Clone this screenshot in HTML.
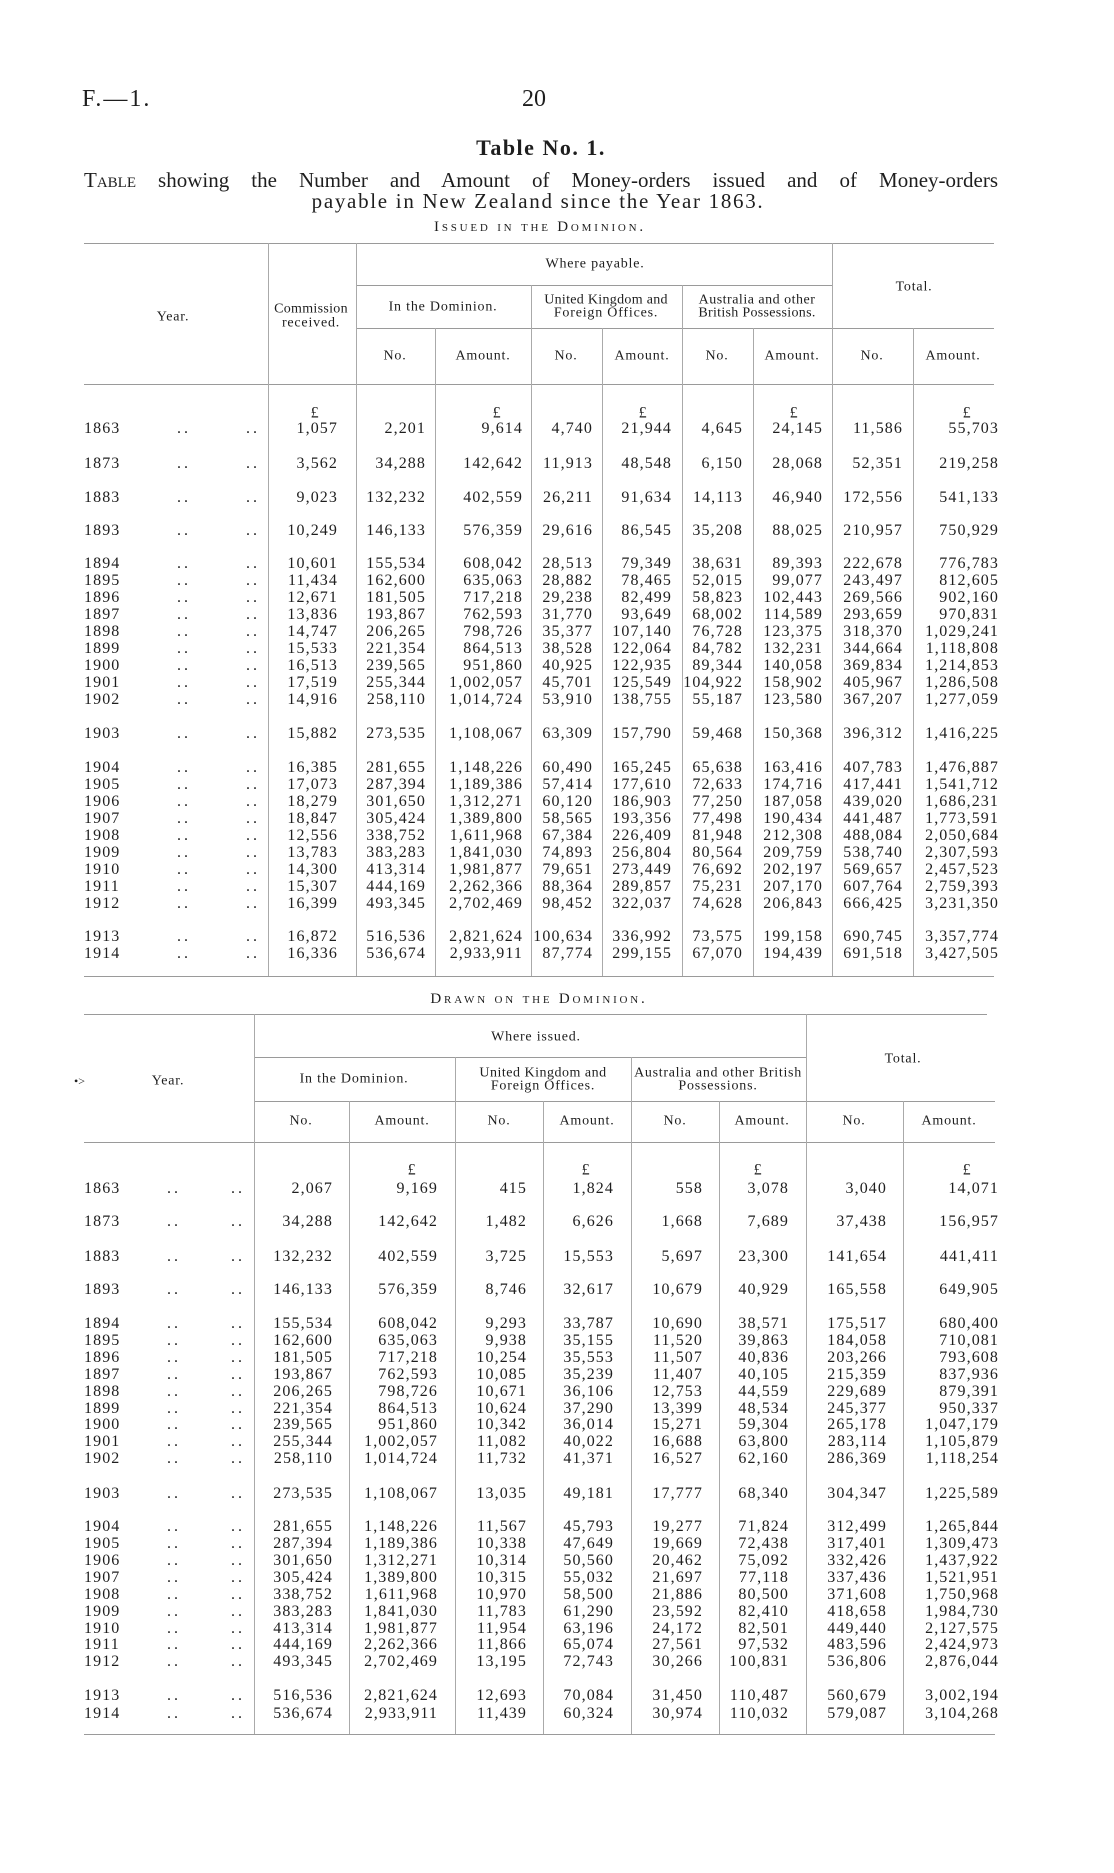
<!DOCTYPE html>
<html><head><meta charset="utf-8">
<style>
body{margin:0;width:1114px;height:1873px;background:#fff;position:relative;overflow:hidden;font-family:"Liberation Serif",serif;color:#1e1e1e}
.a{position:absolute;white-space:nowrap}
.c{position:absolute;white-space:nowrap;transform:translate(-50%,-50%);font-size:14px;line-height:15px;letter-spacing:0.8px;text-align:center}
.h{position:absolute;background:#9a9a9a;height:1px}
.v{position:absolute;background:#aaa;width:1px}
.r{position:absolute;left:0;width:1114px;height:17px;font-size:16px;line-height:17px;letter-spacing:1.1px}
.r span{position:absolute;top:0}
.y{left:84px}
.t1 .d1{left:177px;letter-spacing:3px}.t1 .d2{left:246px;letter-spacing:3px}
.t2 .d1{left:167px;letter-spacing:3px}.t2 .d2{left:231px;letter-spacing:3px}
.t1 .k1{right:776px}.t1 .k2{right:688px}.t1 .k3{right:591px}.t1 .k4{right:521px}.t1 .k5{right:442px}.t1 .k6{right:371px}.t1 .k7{right:291px}.t1 .k8{right:211px}.t1 .k9{right:115px}
.t2 .k1{right:781px}.t2 .k2{right:676px}.t2 .k3{right:587px}.t2 .k4{right:500px}.t2 .k5{right:411px}.t2 .k6{right:325px}.t2 .k7{right:227px}.t2 .k8{right:115px}
.p{font-size:16px}
</style></head><body>

<div class="a" style="left:82px;top:85px;font-size:24px;line-height:28px;letter-spacing:2px">F.—1.</div>
<div class="a" style="left:522px;top:85px;font-size:24px;line-height:28px">20</div>
<div class="c" style="left:541px;top:148px;font-size:22px;line-height:24px;font-weight:bold;letter-spacing:1.5px">Table No. 1.</div>
<div class="a" style="left:84px;top:168px;width:914px;font-size:21px;line-height:24px;text-align:justify;text-align-last:justify;white-space:normal"><span style="font-variant:small-caps">Table</span> showing the Number and Amount of Money-orders issued and of Money-orders</div>
<div class="c" style="left:538px;top:201px;font-size:21px;line-height:24px;letter-spacing:1.7px">payable in New Zealand since the Year 1863.</div>
<div class="c" style="left:540px;top:227px;font-size:15px;line-height:16px;letter-spacing:2.8px;font-variant:small-caps">Issued in the Dominion.</div>

<!-- Table 1 lines -->
<div class="h" style="left:84px;width:910px;top:243px"></div>
<div class="h" style="left:356px;width:476px;top:285px"></div>
<div class="h" style="left:356px;width:638px;top:328px"></div>
<div class="h" style="left:84px;width:910px;top:384px"></div>
<div class="h" style="left:84px;width:910px;top:976px"></div>
<div class="v" style="left:268px;top:243px;height:733px"></div>
<div class="v" style="left:356px;top:243px;height:733px"></div>
<div class="v" style="left:435px;top:328px;height:648px"></div>
<div class="v" style="left:531px;top:285px;height:691px"></div>
<div class="v" style="left:602px;top:328px;height:648px"></div>
<div class="v" style="left:682px;top:285px;height:691px"></div>
<div class="v" style="left:753px;top:328px;height:648px"></div>
<div class="v" style="left:832px;top:243px;height:733px"></div>
<div class="v" style="left:913px;top:328px;height:648px"></div>

<!-- Table 1 headers -->
<div class="c" style="left:595px;top:264px">Where payable.</div>
<div class="c" style="left:173px;top:317px">Year.</div>
<div class="c" style="left:311px;top:309px;letter-spacing:0.3px">Commission</div>
<div class="c" style="left:311px;top:323px">received.</div>
<div class="c" style="left:443px;top:307px">In the Dominion.</div>
<div class="c" style="left:606px;top:300px;letter-spacing:0.3px">United Kingdom and</div>
<div class="c" style="left:606px;top:313px">Foreign Offices.</div>
<div class="c" style="left:757px;top:300px;letter-spacing:0.5px">Australia and other</div>
<div class="c" style="left:757px;top:313px;letter-spacing:0.3px">British Possessions.</div>
<div class="c" style="left:914px;top:287px">Total.</div>
<div class="c" style="left:395px;top:356px">No.</div>
<div class="c" style="left:483px;top:356px">Amount.</div>
<div class="c" style="left:566px;top:356px">No.</div>
<div class="c" style="left:642px;top:356px">Amount.</div>
<div class="c" style="left:717px;top:356px">No.</div>
<div class="c" style="left:792px;top:356px">Amount.</div>
<div class="c" style="left:872px;top:356px">No.</div>
<div class="c" style="left:953px;top:356px">Amount.</div>

<div class="c p" style="left:315px;top:413px">£</div>
<div class="c p" style="left:497px;top:413px">£</div>
<div class="c p" style="left:643px;top:413px">£</div>
<div class="c p" style="left:794px;top:413px">£</div>
<div class="c p" style="left:967px;top:413px">£</div>

<!-- Table 1 rows -->
<div class="r t1" style="top:420px"><span class="y">1863</span><span class="d1">..</span><span class="d2">..</span><span class="k1">1,057</span><span class="k2">2,201</span><span class="k3">9,614</span><span class="k4">4,740</span><span class="k5">21,944</span><span class="k6">4,645</span><span class="k7">24,145</span><span class="k8">11,586</span><span class="k9">55,703</span></div>
<div class="r t1" style="top:455px"><span class="y">1873</span><span class="d1">..</span><span class="d2">..</span><span class="k1">3,562</span><span class="k2">34,288</span><span class="k3">142,642</span><span class="k4">11,913</span><span class="k5">48,548</span><span class="k6">6,150</span><span class="k7">28,068</span><span class="k8">52,351</span><span class="k9">219,258</span></div>
<div class="r t1" style="top:489px"><span class="y">1883</span><span class="d1">..</span><span class="d2">..</span><span class="k1">9,023</span><span class="k2">132,232</span><span class="k3">402,559</span><span class="k4">26,211</span><span class="k5">91,634</span><span class="k6">14,113</span><span class="k7">46,940</span><span class="k8">172,556</span><span class="k9">541,133</span></div>
<div class="r t1" style="top:522px"><span class="y">1893</span><span class="d1">..</span><span class="d2">..</span><span class="k1">10,249</span><span class="k2">146,133</span><span class="k3">576,359</span><span class="k4">29,616</span><span class="k5">86,545</span><span class="k6">35,208</span><span class="k7">88,025</span><span class="k8">210,957</span><span class="k9">750,929</span></div>
<div class="r t1" style="top:555px"><span class="y">1894</span><span class="d1">..</span><span class="d2">..</span><span class="k1">10,601</span><span class="k2">155,534</span><span class="k3">608,042</span><span class="k4">28,513</span><span class="k5">79,349</span><span class="k6">38,631</span><span class="k7">89,393</span><span class="k8">222,678</span><span class="k9">776,783</span></div>
<div class="r t1" style="top:572px"><span class="y">1895</span><span class="d1">..</span><span class="d2">..</span><span class="k1">11,434</span><span class="k2">162,600</span><span class="k3">635,063</span><span class="k4">28,882</span><span class="k5">78,465</span><span class="k6">52,015</span><span class="k7">99,077</span><span class="k8">243,497</span><span class="k9">812,605</span></div>
<div class="r t1" style="top:589px"><span class="y">1896</span><span class="d1">..</span><span class="d2">..</span><span class="k1">12,671</span><span class="k2">181,505</span><span class="k3">717,218</span><span class="k4">29,238</span><span class="k5">82,499</span><span class="k6">58,823</span><span class="k7">102,443</span><span class="k8">269,566</span><span class="k9">902,160</span></div>
<div class="r t1" style="top:606px"><span class="y">1897</span><span class="d1">..</span><span class="d2">..</span><span class="k1">13,836</span><span class="k2">193,867</span><span class="k3">762,593</span><span class="k4">31,770</span><span class="k5">93,649</span><span class="k6">68,002</span><span class="k7">114,589</span><span class="k8">293,659</span><span class="k9">970,831</span></div>
<div class="r t1" style="top:623px"><span class="y">1898</span><span class="d1">..</span><span class="d2">..</span><span class="k1">14,747</span><span class="k2">206,265</span><span class="k3">798,726</span><span class="k4">35,377</span><span class="k5">107,140</span><span class="k6">76,728</span><span class="k7">123,375</span><span class="k8">318,370</span><span class="k9">1,029,241</span></div>
<div class="r t1" style="top:640px"><span class="y">1899</span><span class="d1">..</span><span class="d2">..</span><span class="k1">15,533</span><span class="k2">221,354</span><span class="k3">864,513</span><span class="k4">38,528</span><span class="k5">122,064</span><span class="k6">84,782</span><span class="k7">132,231</span><span class="k8">344,664</span><span class="k9">1,118,808</span></div>
<div class="r t1" style="top:657px"><span class="y">1900</span><span class="d1">..</span><span class="d2">..</span><span class="k1">16,513</span><span class="k2">239,565</span><span class="k3">951,860</span><span class="k4">40,925</span><span class="k5">122,935</span><span class="k6">89,344</span><span class="k7">140,058</span><span class="k8">369,834</span><span class="k9">1,214,853</span></div>
<div class="r t1" style="top:674px"><span class="y">1901</span><span class="d1">..</span><span class="d2">..</span><span class="k1">17,519</span><span class="k2">255,344</span><span class="k3">1,002,057</span><span class="k4">45,701</span><span class="k5">125,549</span><span class="k6">104,922</span><span class="k7">158,902</span><span class="k8">405,967</span><span class="k9">1,286,508</span></div>
<div class="r t1" style="top:691px"><span class="y">1902</span><span class="d1">..</span><span class="d2">..</span><span class="k1">14,916</span><span class="k2">258,110</span><span class="k3">1,014,724</span><span class="k4">53,910</span><span class="k5">138,755</span><span class="k6">55,187</span><span class="k7">123,580</span><span class="k8">367,207</span><span class="k9">1,277,059</span></div>
<div class="r t1" style="top:725px"><span class="y">1903</span><span class="d1">..</span><span class="d2">..</span><span class="k1">15,882</span><span class="k2">273,535</span><span class="k3">1,108,067</span><span class="k4">63,309</span><span class="k5">157,790</span><span class="k6">59,468</span><span class="k7">150,368</span><span class="k8">396,312</span><span class="k9">1,416,225</span></div>
<div class="r t1" style="top:759px"><span class="y">1904</span><span class="d1">..</span><span class="d2">..</span><span class="k1">16,385</span><span class="k2">281,655</span><span class="k3">1,148,226</span><span class="k4">60,490</span><span class="k5">165,245</span><span class="k6">65,638</span><span class="k7">163,416</span><span class="k8">407,783</span><span class="k9">1,476,887</span></div>
<div class="r t1" style="top:776px"><span class="y">1905</span><span class="d1">..</span><span class="d2">..</span><span class="k1">17,073</span><span class="k2">287,394</span><span class="k3">1,189,386</span><span class="k4">57,414</span><span class="k5">177,610</span><span class="k6">72,633</span><span class="k7">174,716</span><span class="k8">417,441</span><span class="k9">1,541,712</span></div>
<div class="r t1" style="top:793px"><span class="y">1906</span><span class="d1">..</span><span class="d2">..</span><span class="k1">18,279</span><span class="k2">301,650</span><span class="k3">1,312,271</span><span class="k4">60,120</span><span class="k5">186,903</span><span class="k6">77,250</span><span class="k7">187,058</span><span class="k8">439,020</span><span class="k9">1,686,231</span></div>
<div class="r t1" style="top:810px"><span class="y">1907</span><span class="d1">..</span><span class="d2">..</span><span class="k1">18,847</span><span class="k2">305,424</span><span class="k3">1,389,800</span><span class="k4">58,565</span><span class="k5">193,356</span><span class="k6">77,498</span><span class="k7">190,434</span><span class="k8">441,487</span><span class="k9">1,773,591</span></div>
<div class="r t1" style="top:827px"><span class="y">1908</span><span class="d1">..</span><span class="d2">..</span><span class="k1">12,556</span><span class="k2">338,752</span><span class="k3">1,611,968</span><span class="k4">67,384</span><span class="k5">226,409</span><span class="k6">81,948</span><span class="k7">212,308</span><span class="k8">488,084</span><span class="k9">2,050,684</span></div>
<div class="r t1" style="top:844px"><span class="y">1909</span><span class="d1">..</span><span class="d2">..</span><span class="k1">13,783</span><span class="k2">383,283</span><span class="k3">1,841,030</span><span class="k4">74,893</span><span class="k5">256,804</span><span class="k6">80,564</span><span class="k7">209,759</span><span class="k8">538,740</span><span class="k9">2,307,593</span></div>
<div class="r t1" style="top:861px"><span class="y">1910</span><span class="d1">..</span><span class="d2">..</span><span class="k1">14,300</span><span class="k2">413,314</span><span class="k3">1,981,877</span><span class="k4">79,651</span><span class="k5">273,449</span><span class="k6">76,692</span><span class="k7">202,197</span><span class="k8">569,657</span><span class="k9">2,457,523</span></div>
<div class="r t1" style="top:878px"><span class="y">1911</span><span class="d1">..</span><span class="d2">..</span><span class="k1">15,307</span><span class="k2">444,169</span><span class="k3">2,262,366</span><span class="k4">88,364</span><span class="k5">289,857</span><span class="k6">75,231</span><span class="k7">207,170</span><span class="k8">607,764</span><span class="k9">2,759,393</span></div>
<div class="r t1" style="top:895px"><span class="y">1912</span><span class="d1">..</span><span class="d2">..</span><span class="k1">16,399</span><span class="k2">493,345</span><span class="k3">2,702,469</span><span class="k4">98,452</span><span class="k5">322,037</span><span class="k6">74,628</span><span class="k7">206,843</span><span class="k8">666,425</span><span class="k9">3,231,350</span></div>
<div class="r t1" style="top:928px"><span class="y">1913</span><span class="d1">..</span><span class="d2">..</span><span class="k1">16,872</span><span class="k2">516,536</span><span class="k3">2,821,624</span><span class="k4">100,634</span><span class="k5">336,992</span><span class="k6">73,575</span><span class="k7">199,158</span><span class="k8">690,745</span><span class="k9">3,357,774</span></div>
<div class="r t1" style="top:945px"><span class="y">1914</span><span class="d1">..</span><span class="d2">..</span><span class="k1">16,336</span><span class="k2">536,674</span><span class="k3">2,933,911</span><span class="k4">87,774</span><span class="k5">299,155</span><span class="k6">67,070</span><span class="k7">194,439</span><span class="k8">691,518</span><span class="k9">3,427,505</span></div>

<!-- Table 2 -->
<div class="c" style="left:539px;top:999px;font-size:15px;line-height:16px;letter-spacing:2.8px;font-variant:small-caps">Drawn on the Dominion.</div>

<div class="h" style="left:84px;width:903px;top:1014px"></div>
<div class="h" style="left:254px;width:552px;top:1057px"></div>
<div class="h" style="left:254px;width:741px;top:1101px"></div>
<div class="h" style="left:84px;width:911px;top:1142px"></div>
<div class="h" style="left:84px;width:911px;top:1734px"></div>
<div class="v" style="left:254px;top:1014px;height:720px"></div>
<div class="v" style="left:349px;top:1101px;height:633px"></div>
<div class="v" style="left:455px;top:1057px;height:677px"></div>
<div class="v" style="left:543px;top:1101px;height:633px"></div>
<div class="v" style="left:631px;top:1057px;height:677px"></div>
<div class="v" style="left:719px;top:1101px;height:633px"></div>
<div class="v" style="left:806px;top:1014px;height:720px"></div>
<div class="v" style="left:903px;top:1101px;height:633px"></div>

<div class="c" style="left:536px;top:1037px">Where issued.</div>
<div class="c" style="left:168px;top:1081px">Year.</div>
<div class="a" style="left:74px;top:1074px;font-size:12px;line-height:14px">•&gt;</div>
<div class="c" style="left:354px;top:1079px">In the Dominion.</div>
<div class="c" style="left:543px;top:1073px;letter-spacing:0.5px">United Kingdom and</div>
<div class="c" style="left:543px;top:1086px">Foreign Offices.</div>
<div class="c" style="left:718px;top:1073px;letter-spacing:0.7px">Australia and other British</div>
<div class="c" style="left:718px;top:1086px">Possessions.</div>
<div class="c" style="left:903px;top:1059px">Total.</div>
<div class="c" style="left:301px;top:1121px">No.</div>
<div class="c" style="left:402px;top:1121px">Amount.</div>
<div class="c" style="left:499px;top:1121px">No.</div>
<div class="c" style="left:587px;top:1121px">Amount.</div>
<div class="c" style="left:675px;top:1121px">No.</div>
<div class="c" style="left:762px;top:1121px">Amount.</div>
<div class="c" style="left:854px;top:1121px">No.</div>
<div class="c" style="left:949px;top:1121px">Amount.</div>

<div class="c p" style="left:412px;top:1170px">£</div>
<div class="c p" style="left:586px;top:1170px">£</div>
<div class="c p" style="left:758px;top:1170px">£</div>
<div class="c p" style="left:967px;top:1170px">£</div>

<div class="r t2" style="top:1180px"><span class="y">1863</span><span class="d1">..</span><span class="d2">..</span><span class="k1">2,067</span><span class="k2">9,169</span><span class="k3">415</span><span class="k4">1,824</span><span class="k5">558</span><span class="k6">3,078</span><span class="k7">3,040</span><span class="k8">14,071</span></div>
<div class="r t2" style="top:1213px"><span class="y">1873</span><span class="d1">..</span><span class="d2">..</span><span class="k1">34,288</span><span class="k2">142,642</span><span class="k3">1,482</span><span class="k4">6,626</span><span class="k5">1,668</span><span class="k6">7,689</span><span class="k7">37,438</span><span class="k8">156,957</span></div>
<div class="r t2" style="top:1248px"><span class="y">1883</span><span class="d1">..</span><span class="d2">..</span><span class="k1">132,232</span><span class="k2">402,559</span><span class="k3">3,725</span><span class="k4">15,553</span><span class="k5">5,697</span><span class="k6">23,300</span><span class="k7">141,654</span><span class="k8">441,411</span></div>
<div class="r t2" style="top:1281px"><span class="y">1893</span><span class="d1">..</span><span class="d2">..</span><span class="k1">146,133</span><span class="k2">576,359</span><span class="k3">8,746</span><span class="k4">32,617</span><span class="k5">10,679</span><span class="k6">40,929</span><span class="k7">165,558</span><span class="k8">649,905</span></div>
<div class="r t2" style="top:1315px"><span class="y">1894</span><span class="d1">..</span><span class="d2">..</span><span class="k1">155,534</span><span class="k2">608,042</span><span class="k3">9,293</span><span class="k4">33,787</span><span class="k5">10,690</span><span class="k6">38,571</span><span class="k7">175,517</span><span class="k8">680,400</span></div>
<div class="r t2" style="top:1332px"><span class="y">1895</span><span class="d1">..</span><span class="d2">..</span><span class="k1">162,600</span><span class="k2">635,063</span><span class="k3">9,938</span><span class="k4">35,155</span><span class="k5">11,520</span><span class="k6">39,863</span><span class="k7">184,058</span><span class="k8">710,081</span></div>
<div class="r t2" style="top:1349px"><span class="y">1896</span><span class="d1">..</span><span class="d2">..</span><span class="k1">181,505</span><span class="k2">717,218</span><span class="k3">10,254</span><span class="k4">35,553</span><span class="k5">11,507</span><span class="k6">40,836</span><span class="k7">203,266</span><span class="k8">793,608</span></div>
<div class="r t2" style="top:1366px"><span class="y">1897</span><span class="d1">..</span><span class="d2">..</span><span class="k1">193,867</span><span class="k2">762,593</span><span class="k3">10,085</span><span class="k4">35,239</span><span class="k5">11,407</span><span class="k6">40,105</span><span class="k7">215,359</span><span class="k8">837,936</span></div>
<div class="r t2" style="top:1383px"><span class="y">1898</span><span class="d1">..</span><span class="d2">..</span><span class="k1">206,265</span><span class="k2">798,726</span><span class="k3">10,671</span><span class="k4">36,106</span><span class="k5">12,753</span><span class="k6">44,559</span><span class="k7">229,689</span><span class="k8">879,391</span></div>
<div class="r t2" style="top:1400px"><span class="y">1899</span><span class="d1">..</span><span class="d2">..</span><span class="k1">221,354</span><span class="k2">864,513</span><span class="k3">10,624</span><span class="k4">37,290</span><span class="k5">13,399</span><span class="k6">48,534</span><span class="k7">245,377</span><span class="k8">950,337</span></div>
<div class="r t2" style="top:1416px"><span class="y">1900</span><span class="d1">..</span><span class="d2">..</span><span class="k1">239,565</span><span class="k2">951,860</span><span class="k3">10,342</span><span class="k4">36,014</span><span class="k5">15,271</span><span class="k6">59,304</span><span class="k7">265,178</span><span class="k8">1,047,179</span></div>
<div class="r t2" style="top:1433px"><span class="y">1901</span><span class="d1">..</span><span class="d2">..</span><span class="k1">255,344</span><span class="k2">1,002,057</span><span class="k3">11,082</span><span class="k4">40,022</span><span class="k5">16,688</span><span class="k6">63,800</span><span class="k7">283,114</span><span class="k8">1,105,879</span></div>
<div class="r t2" style="top:1450px"><span class="y">1902</span><span class="d1">..</span><span class="d2">..</span><span class="k1">258,110</span><span class="k2">1,014,724</span><span class="k3">11,732</span><span class="k4">41,371</span><span class="k5">16,527</span><span class="k6">62,160</span><span class="k7">286,369</span><span class="k8">1,118,254</span></div>
<div class="r t2" style="top:1485px"><span class="y">1903</span><span class="d1">..</span><span class="d2">..</span><span class="k1">273,535</span><span class="k2">1,108,067</span><span class="k3">13,035</span><span class="k4">49,181</span><span class="k5">17,777</span><span class="k6">68,340</span><span class="k7">304,347</span><span class="k8">1,225,589</span></div>
<div class="r t2" style="top:1518px"><span class="y">1904</span><span class="d1">..</span><span class="d2">..</span><span class="k1">281,655</span><span class="k2">1,148,226</span><span class="k3">11,567</span><span class="k4">45,793</span><span class="k5">19,277</span><span class="k6">71,824</span><span class="k7">312,499</span><span class="k8">1,265,844</span></div>
<div class="r t2" style="top:1535px"><span class="y">1905</span><span class="d1">..</span><span class="d2">..</span><span class="k1">287,394</span><span class="k2">1,189,386</span><span class="k3">10,338</span><span class="k4">47,649</span><span class="k5">19,669</span><span class="k6">72,438</span><span class="k7">317,401</span><span class="k8">1,309,473</span></div>
<div class="r t2" style="top:1552px"><span class="y">1906</span><span class="d1">..</span><span class="d2">..</span><span class="k1">301,650</span><span class="k2">1,312,271</span><span class="k3">10,314</span><span class="k4">50,560</span><span class="k5">20,462</span><span class="k6">75,092</span><span class="k7">332,426</span><span class="k8">1,437,922</span></div>
<div class="r t2" style="top:1569px"><span class="y">1907</span><span class="d1">..</span><span class="d2">..</span><span class="k1">305,424</span><span class="k2">1,389,800</span><span class="k3">10,315</span><span class="k4">55,032</span><span class="k5">21,697</span><span class="k6">77,118</span><span class="k7">337,436</span><span class="k8">1,521,951</span></div>
<div class="r t2" style="top:1586px"><span class="y">1908</span><span class="d1">..</span><span class="d2">..</span><span class="k1">338,752</span><span class="k2">1,611,968</span><span class="k3">10,970</span><span class="k4">58,500</span><span class="k5">21,886</span><span class="k6">80,500</span><span class="k7">371,608</span><span class="k8">1,750,968</span></div>
<div class="r t2" style="top:1603px"><span class="y">1909</span><span class="d1">..</span><span class="d2">..</span><span class="k1">383,283</span><span class="k2">1,841,030</span><span class="k3">11,783</span><span class="k4">61,290</span><span class="k5">23,592</span><span class="k6">82,410</span><span class="k7">418,658</span><span class="k8">1,984,730</span></div>
<div class="r t2" style="top:1620px"><span class="y">1910</span><span class="d1">..</span><span class="d2">..</span><span class="k1">413,314</span><span class="k2">1,981,877</span><span class="k3">11,954</span><span class="k4">63,196</span><span class="k5">24,172</span><span class="k6">82,501</span><span class="k7">449,440</span><span class="k8">2,127,575</span></div>
<div class="r t2" style="top:1636px"><span class="y">1911</span><span class="d1">..</span><span class="d2">..</span><span class="k1">444,169</span><span class="k2">2,262,366</span><span class="k3">11,866</span><span class="k4">65,074</span><span class="k5">27,561</span><span class="k6">97,532</span><span class="k7">483,596</span><span class="k8">2,424,973</span></div>
<div class="r t2" style="top:1653px"><span class="y">1912</span><span class="d1">..</span><span class="d2">..</span><span class="k1">493,345</span><span class="k2">2,702,469</span><span class="k3">13,195</span><span class="k4">72,743</span><span class="k5">30,266</span><span class="k6">100,831</span><span class="k7">536,806</span><span class="k8">2,876,044</span></div>
<div class="r t2" style="top:1687px"><span class="y">1913</span><span class="d1">..</span><span class="d2">..</span><span class="k1">516,536</span><span class="k2">2,821,624</span><span class="k3">12,693</span><span class="k4">70,084</span><span class="k5">31,450</span><span class="k6">110,487</span><span class="k7">560,679</span><span class="k8">3,002,194</span></div>
<div class="r t2" style="top:1705px"><span class="y">1914</span><span class="d1">..</span><span class="d2">..</span><span class="k1">536,674</span><span class="k2">2,933,911</span><span class="k3">11,439</span><span class="k4">60,324</span><span class="k5">30,974</span><span class="k6">110,032</span><span class="k7">579,087</span><span class="k8">3,104,268</span></div>

</body></html>
